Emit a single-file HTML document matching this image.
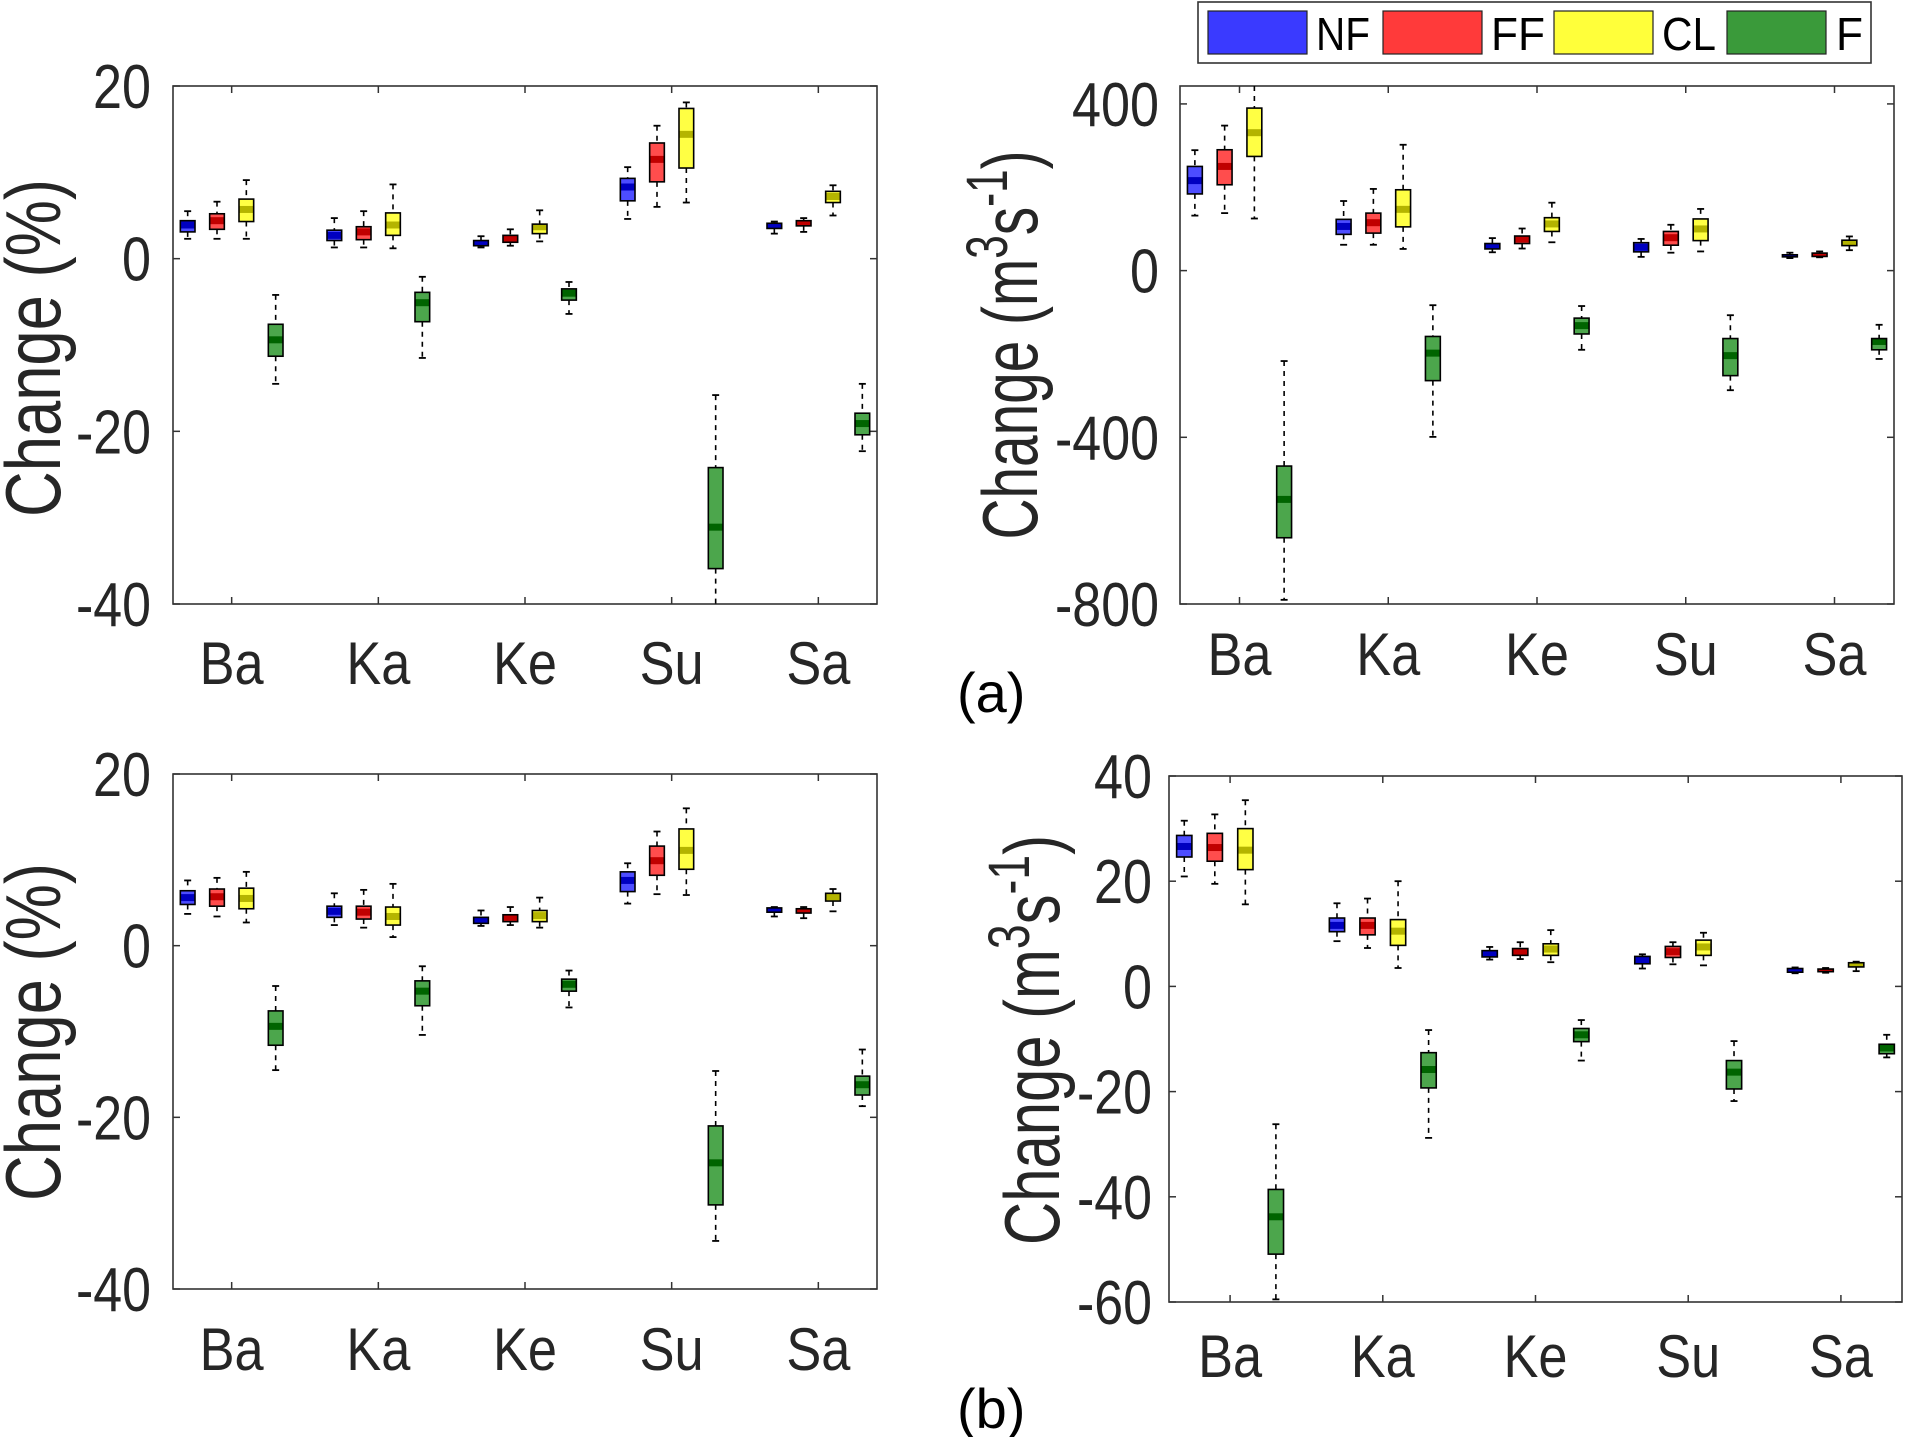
<!DOCTYPE html>
<html><head><meta charset="utf-8"><style>
html,body{margin:0;padding:0;background:#fff;}
svg{display:block;font-family:"Liberation Sans",Arial,sans-serif;}
</style></head><body>
<svg id="fig" width="1913" height="1437" viewBox="0 0 1913 1437" xmlns="http://www.w3.org/2000/svg"></svg>
<script>
// ---- data: each entry [whiskerHigh, q3, median, q1, whiskerLow] per category ----
const categories = ["Ba","Ka","Ke","Su","Sa"];
const seriesNames = ["NF","FF","CL","F"];

const a_pct_NF = [[5.5,4.4,3.9,3.1,2.3],[4.7,3.3,2.7,2.1,1.3],[2.6,2.1,1.9,1.5,1.3],[10.6,9.3,8.3,6.7,4.6],[4.3,4.1,3.8,3.5,2.9]];
const a_pct_FF = [[6.6,5.2,4.4,3.4,2.3],[5.5,3.7,3.1,2.2,1.3],[3.4,2.7,2.3,1.9,1.5],[15.4,13.4,11.5,8.9,6.0],[4.7,4.4,4.1,3.8,3.1]];
const a_pct_CL = [[9.1,6.9,5.7,4.3,2.3],[8.6,5.3,3.9,2.7,1.2],[5.6,4.0,3.7,2.9,2.0],[18.1,17.4,14.4,10.5,6.5],[8.5,7.8,7.2,6.5,5.0]];
const a_pct_F  = [[-4.2,-7.6,-9.4,-11.3,-14.5],[-2.1,-3.9,-5.1,-7.3,-11.5],[-2.7,-3.5,-4.0,-4.8,-6.4],[-15.8,-24.2,-31.1,-35.9,-41],[-14.5,-17.9,-19.1,-20.4,-22.3]];

const a_q_NF = [[289,250,216,184,132],[167,123,106,87,62],[78,65,59,52,44],[76,67,56,45,33],[43,38,36,33,30]];
const a_q_FF = [[348,290,250,206,138],[196,138,115,90,62],[101,83,76,65,53],[110,94,79,61,43],[46,42,38,34,32]];
const a_q_CL = [[450,390,331,274,125],[302,194,147,105,52],[163,127,112,94,68],[148,124,100,72,46],[82,73,68,60,49]];
const a_q_F  = [[-217,-469,-549,-641,-790],[-83,-158,-198,-264,-399],[-85,-114,-132,-152,-190],[-107,-163,-204,-252,-287],[-130,-163,-170,-190,-212]];

const b_pct_NF = [[7.6,6.4,5.6,4.8,3.7],[6.1,4.6,4.0,3.3,2.4],[4.1,3.3,3.0,2.6,2.3],[9.6,8.6,7.6,6.3,4.9],[4.5,4.4,4.1,3.9,3.4]];
const b_pct_FF = [[7.9,6.6,5.7,4.6,3.4],[6.5,4.6,3.9,3.1,2.1],[4.5,3.6,3.3,2.8,2.4],[13.3,11.6,9.9,8.2,6.0],[4.5,4.3,4.1,3.8,3.2]];
const b_pct_CL = [[8.6,6.7,5.5,4.3,2.7],[7.2,4.5,3.4,2.4,1.0],[5.6,4.1,3.5,2.8,2.1],[16.0,13.6,11.1,8.9,5.9],[6.6,6.1,5.7,5.2,4.0]];
const b_pct_F  = [[-4.7,-7.6,-9.4,-11.6,-14.5],[-2.4,-4.1,-5.3,-7.0,-10.4],[-2.9,-3.9,-4.5,-5.3,-7.2],[-14.6,-21.0,-25.3,-30.2,-34.4],[-12.1,-15.2,-16.2,-17.4,-18.7]];

const b_q_NF = [[31.5,28.7,26.6,24.6,20.9],[15.8,13.0,11.6,10.4,8.6],[7.5,6.8,6.2,5.6,5.1],[6.1,5.7,5.0,4.3,3.4],[3.6,3.4,3.1,2.7,2.5]];
const b_q_FF = [[32.7,29.1,26.4,23.8,19.5],[16.7,13.0,11.6,9.8,7.3],[8.4,7.2,6.6,5.9,5.2],[8.4,7.6,6.6,5.5,4.2],[3.5,3.3,3.1,2.8,2.6]];
const b_q_CL = [[35.4,30.0,25.9,22.2,15.6],[20.0,12.7,10.5,7.8,3.5],[10.7,8.1,7.1,5.9,4.6],[10.2,8.8,7.5,5.9,4.0],[4.7,4.5,4.2,3.7,2.9]];
const b_q_F  = [[-26.2,-38.6,-43.8,-50.9,-59.5],[-8.3,-12.6,-15.8,-19.3,-28.8],[-6.4,-8.0,-9.2,-10.5,-14.1],[-10.4,-14.1,-16.3,-19.5,-21.8],[-9.2,-11.0,-11.7,-12.8,-13.5]];

const ticks_pct = [20,0,-20,-40];
const ticks_qa = [400,0,-400,-800];
const ticks_qb = [40,20,0,-20,-40,-60];

// ---- styles ----
const fills = ["#4d4dff","#ff4d4d","#ffff44","#4ca64c"];
const meds  = ["#0000c0","#c00000","#b4b400","#006400"];
const NS = "http://www.w3.org/2000/svg";
const svg = document.getElementById("fig");
function el(tag, attrs, parent){
  const e = document.createElementNS(NS, tag);
  for (const k in attrs) e.setAttribute(k, attrs[k]);
  (parent||svg).appendChild(e);
  return e;
}

const panels = [
  {id:"a-percent", L:173,R:877,T:86,B:604, ymin:-40,ymax:20, ticks:ticks_pct, data:[a_pct_NF,a_pct_FF,a_pct_CL,a_pct_F], tickRight:151, catBase:684, ylab:{x:60,y:348,len:338,sup:false}},
  {id:"a-discharge", L:1180,R:1894,T:86,B:604, ymin:-800,ymax:443, ticks:ticks_qa, data:[a_q_NF,a_q_FF,a_q_CL,a_q_F], tickRight:1159, catBase:675, ylab:{x:1037,y:345,len:389,sup:true}},
  {id:"b-percent", L:173,R:877,T:774,B:1289, ymin:-40,ymax:20, ticks:ticks_pct, data:[b_pct_NF,b_pct_FF,b_pct_CL,b_pct_F], tickRight:151, catBase:1370, ylab:{x:60,y:1032,len:338,sup:false}},
  {id:"b-discharge", L:1169,R:1902,T:776,B:1302, ymin:-60,ymax:40, ticks:ticks_qb, data:[b_q_NF,b_q_FF,b_q_CL,b_q_F], tickRight:1152, catBase:1377, ylab:{x:1059,y:1040,len:410,sup:true}}
];

panels.forEach(p=>{
  const g = el("g",{});
  
  
  const xs = v => p.L + (v-0.6)/4.8*(p.R-p.L);
  const ys = v => p.B - (v-p.ymin)/(p.ymax-p.ymin)*(p.B-p.T);
  const clip = v => Math.max(p.T, Math.min(p.B, ys(v)));
  const frame = el("rect",{x:p.L,y:p.T,width:p.R-p.L,height:p.B-p.T,fill:"none",stroke:"#333",'stroke-width':1.6},g);
  
  
  p.ticks.forEach(t=>{
    const y = ys(t);
    el("line",{x1:p.L,x2:p.L+7,y1:y,y2:y,stroke:"#333",'stroke-width':1.5},g);
    el("line",{x1:p.R,x2:p.R-7,y1:y,y2:y,stroke:"#333",'stroke-width':1.5},g);
    const s = String(t);
    const tx = el("text",{x:p.tickRight,y:y+22,'text-anchor':"end",'font-size':62,fill:"#262626",
      textLength:s.length*29 - (s[0]==='-'?12:0),lengthAdjust:"spacingAndGlyphs"},g);
    tx.textContent = s;
    
    
  });
  categories.forEach((c,i)=>{
    const x = xs(i+1);
    el("line",{x1:x,x2:x,y1:p.B,y2:p.B-7,stroke:"#333",'stroke-width':1.5},g);
    el("line",{x1:x,x2:x,y1:p.T,y2:p.T+7,stroke:"#333",'stroke-width':1.5},g);
    const tx = el("text",{x:x,y:p.catBase,'text-anchor':"middle",'font-size':60,fill:"#262626",
      textLength:64,lengthAdjust:"spacingAndGlyphs"},g);
    tx.textContent = c;
    
    
  });
  const yl = el("text",{x:p.ylab.x,y:p.ylab.y,'text-anchor':"middle",'font-size':78,fill:"#262626",
    transform:`rotate(-90 ${p.ylab.x} ${p.ylab.y})`,textLength:p.ylab.len,lengthAdjust:"spacingAndGlyphs"},g);
  
  
  if (p.ylab.sup){
    yl.appendChild(document.createTextNode("Change (m"));
    const s1 = el("tspan",{dy:-30,'font-size':58},yl); s1.textContent="3";
    const s2 = el("tspan",{dy:30},yl); s2.textContent="s";
    const s3 = el("tspan",{dy:-30,'font-size':58},yl); s3.textContent="-1";
    const s4 = el("tspan",{dy:30},yl); s4.textContent=")";
  } else {
    yl.textContent = "Change (%)";
  }
  const bw = 0.1/4.8*(p.R-p.L);
  p.data.forEach((ser,si)=>{
    ser.forEach((v,ci)=>{
      const cx = xs(ci+1 + (si-1.5)*0.2);
      const [wh,q3,md,q1,wl] = v;
      const bg = el("g",{},g);
      
      
      const yq3 = ys(q3), yq1 = ys(q1);
      el("line",{x1:cx,x2:cx,y1:clip(wh),y2:yq3,stroke:"#000",'stroke-width':1.6,'stroke-dasharray':"5,5"},bg);
      el("line",{x1:cx,x2:cx,y1:yq1,y2:clip(wl),stroke:"#000",'stroke-width':1.6,'stroke-dasharray':"5,5"},bg);
      if (ys(wh)>=p.T) el("line",{x1:cx-3.5,x2:cx+3.5,y1:ys(wh),y2:ys(wh),stroke:"#000",'stroke-width':1.8},bg);
      if (ys(wl)<=p.B) el("line",{x1:cx-3.5,x2:cx+3.5,y1:ys(wl),y2:ys(wl),stroke:"#000",'stroke-width':1.8},bg);
      el("rect",{x:cx-bw/2,y:yq3,width:bw,height:Math.max(1,yq1-yq3),fill:fills[si]},bg);
      const ym = ys(md);
      el("rect",{x:cx-bw/2,y:Math.max(yq3,ym-3.5),width:bw,height:Math.min(yq1,ym+3.5)-Math.max(yq3,ym-3.5),fill:meds[si]},bg);
      el("rect",{x:cx-bw/2,y:yq3,width:bw,height:Math.max(1,yq1-yq3),fill:"none",stroke:"#000",'stroke-width':1.6},bg);
    });
  });
});

// legend
const lg = el("g",{});


el("rect",{x:1198,y:2,width:673,height:61,fill:"#fff",stroke:"#333",'stroke-width':1.6},lg);
const legX = [1208,1383,1554,1727];
const legTX = [1316,1491,1662,1836];
const legCols = ["#3a3aff","#ff3a3a","#ffff3a","#3a9a3a"];
seriesNames.forEach((n,i)=>{
  const e = el("g",{},lg);
  
  
  el("rect",{x:legX[i],y:11,width:99,height:43,fill:legCols[i],stroke:"#222",'stroke-width':1.2},e);
  const t = el("text",{x:legTX[i],y:50,'font-size':46,fill:"#000",textLength:n.length*27,lengthAdjust:"spacingAndGlyphs"},e);
  t.textContent = n;
});

const la = el("text",{x:957,y:712,'font-size':56,fill:"#000"}); la.textContent="(a)";


const lb = el("text",{x:957,y:1428,'font-size':56,fill:"#000"}); lb.textContent="(b)";


</script>
</body></html>
